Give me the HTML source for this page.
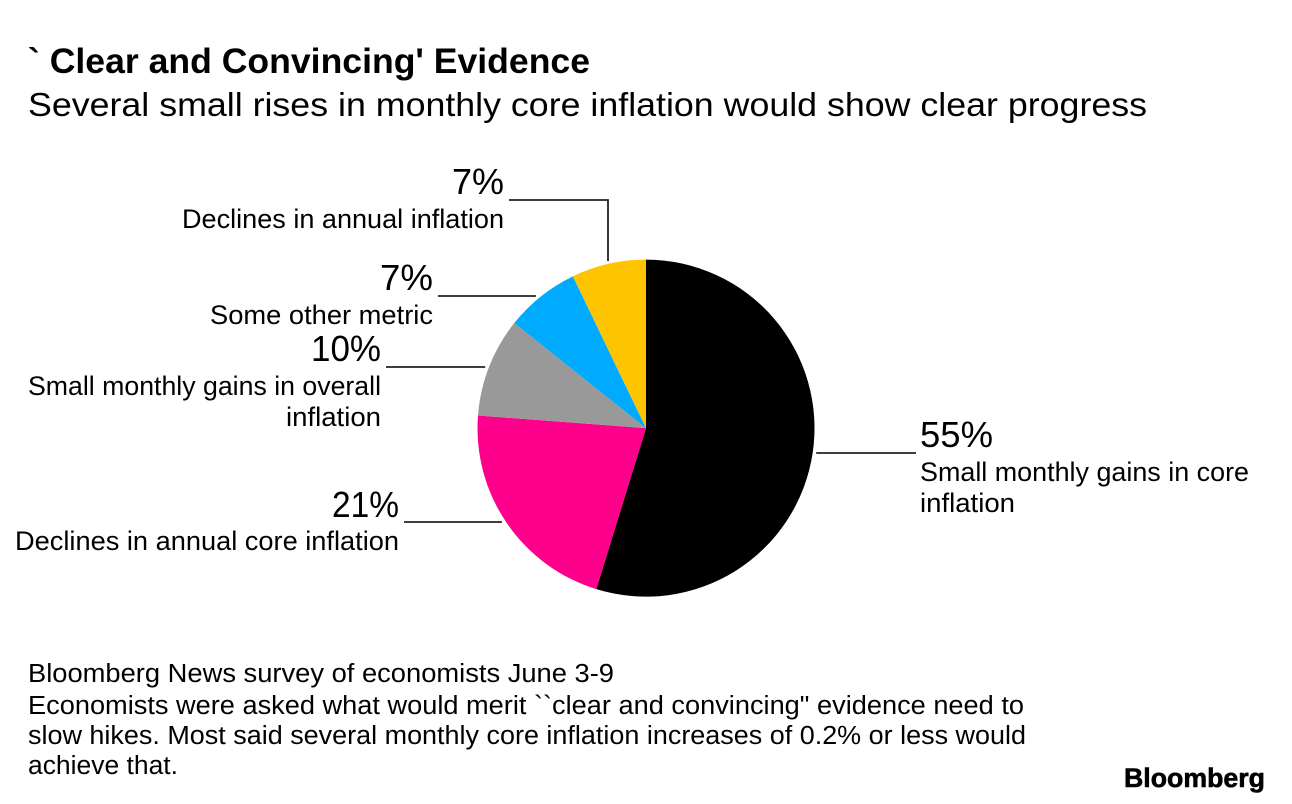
<!DOCTYPE html>
<html>
<head>
<meta charset="utf-8">
<style>
html,body{margin:0;padding:0;background:#fff;}
#chart{position:relative;width:1292px;height:804px;overflow:hidden;font-family:"Liberation Sans",Arial,sans-serif;color:#000;}
svg{position:absolute;left:0;top:0;}
text{font-family:"Liberation Sans",Arial,sans-serif;fill:#000;}
</style>
</head>
<body>
<div id="chart">
<svg id="svg" width="1292" height="804" viewBox="0 0 1292 804">
<text x="28" y="73" font-size="35.5" font-weight="700" textLength="562" lengthAdjust="spacingAndGlyphs">` Clear and Convincing' Evidence</text>
<text x="28" y="116" font-size="33.5" textLength="1119" lengthAdjust="spacingAndGlyphs">Several small rises in monthly core inflation would show clear progress</text>
<g id="slices"></g>
<g id="labels"></g>
<g>
<text x="28" y="682" font-size="25.5" textLength="586" lengthAdjust="spacingAndGlyphs">Bloomberg News survey of economists June 3-9</text>
<text x="28" y="714" font-size="25.5" textLength="996" lengthAdjust="spacingAndGlyphs">Economists were asked what would merit ``clear and convincing" evidence need to</text>
<text x="28" y="744" font-size="25.5" textLength="998" lengthAdjust="spacingAndGlyphs">slow hikes. Most said several monthly core inflation increases of 0.2% or less would</text>
<text x="28" y="774" font-size="25.5" textLength="150" lengthAdjust="spacingAndGlyphs">achieve that.</text>
</g>
<text x="1124" y="787" font-size="27" font-weight="700" textLength="141" lengthAdjust="spacingAndGlyphs" stroke="#000" stroke-width="0.6">Bloomberg</text>
</svg>
</div>
<script>
var categories = ["Small monthly gains in core inflation","Declines in annual core inflation","Small monthly gains in overall inflation","Some other metric","Declines in annual inflation"];
var values = [54.76,21.43,9.52,7.14,7.14];
var valueLabels = ["55%","21%","10%","7%","7%"];
var colors = ["#000000","#ff008c","#999999","#00aaff","#ffc400"];

var NS = "http://www.w3.org/2000/svg";
var cx = 646, cy = 428.15, r = 168.5;
var total = values.reduce(function(a,b){return a+b;},0);
function angleOf(v){ return v / total * 2 * Math.PI; }
function px(a, rad){ return cx + rad * Math.sin(a); }
function py(a, rad){ return cy - rad * Math.cos(a); }

var slicesG = document.getElementById('slices');
var labelsG = document.getElementById('labels');

// label placement per slice; wrapped category lines and their fitted widths
var layout = [
  {side:"left", elbow:false, hx:916, numX:920, numW:73, numUp:6, nudge:0, lines:["Small monthly gains in core","inflation"], lineW:[329,95]},
  {side:"right", elbow:false, hx:404, numX:399, numW:67, numUp:5, nudge:-1, lines:["Declines in annual core inflation"], lineW:[384]},
  {side:"right", elbow:false, hx:386, numX:381, numW:70, numUp:6, nudge:0, lines:["Small monthly gains in overall","inflation"], lineW:[353,95]},
  {side:"right", elbow:false, hx:438, numX:433, numW:53, numUp:6, nudge:0, lines:["Some other metric"], lineW:[223]},
  {side:"right", elbow:true, hx:509, numX:504, numW:52, numUp:6, nudge:0, lines:["Declines in annual inflation"], lineW:[322], fixedY:200}
];
var lineOffsets = [28, 59];

var start = 0;
values.forEach(function(v,i){
  var end = start + angleOf(v);
  var large = (end - start) > Math.PI ? 1 : 0;
  var path = document.createElementNS(NS,'path');
  path.setAttribute('d','M'+cx+' '+cy+' L'+px(start,r)+' '+py(start,r)+' A'+r+' '+r+' 0 '+large+' 1 '+px(end,r)+' '+py(end,r)+' Z');
  path.setAttribute('fill',colors[i]);
  
  
  slicesG.appendChild(path);

  var mid = (start + end) / 2;
  var L = layout[i];
  var ly = L.elbow ? L.fixedY : Math.round(py(mid, r)) + L.nudge;
  var line = document.createElementNS(NS,'path');
  var d;
  if (L.elbow) {
    var ex = Math.round(px(mid, r + 3));
    d = 'M'+L.hx+' '+ly+' H'+ex+' V'+py(mid, r + 3);
  } else {
    // leader stops just outside the pie at the label's height
    var dy = ly - cy;
    var rr = r + 3.5;
    var reach = Math.sqrt(Math.max(0, rr*rr - dy*dy));
    var ex2 = L.side === "left" ? cx + reach : cx - reach;
    d = 'M'+L.hx+' '+ly+' H'+ex2;
  }
  line.setAttribute('d', d);
  line.setAttribute('fill','none');
  line.setAttribute('stroke','#222');
  line.setAttribute('stroke-width','1.8');
  
  
  labelsG.appendChild(line);

  var anchor = L.side === "left" ? "start" : "end";
  var num = document.createElementNS(NS,'text');
  num.setAttribute('x', L.numX);
  num.setAttribute('y', ly - L.numUp);
  num.setAttribute('font-size','36');
  num.setAttribute('textLength', L.numW);
  num.setAttribute('lengthAdjust','spacingAndGlyphs');
  num.setAttribute('text-anchor',anchor);
  
  
  num.textContent = valueLabels[i];
  labelsG.appendChild(num);

  L.lines.forEach(function(t,j){
    var tx = document.createElementNS(NS,'text');
    tx.setAttribute('x', L.numX);
    tx.setAttribute('y', ly + lineOffsets[j]);
    tx.setAttribute('font-size','26.5');
    tx.setAttribute('textLength', L.lineW[j]);
    tx.setAttribute('lengthAdjust','spacingAndGlyphs');
    tx.setAttribute('text-anchor',anchor);
    
    
    tx.textContent = t;
    labelsG.appendChild(tx);
  });
  start = end;
});
</script>
</body>
</html>
